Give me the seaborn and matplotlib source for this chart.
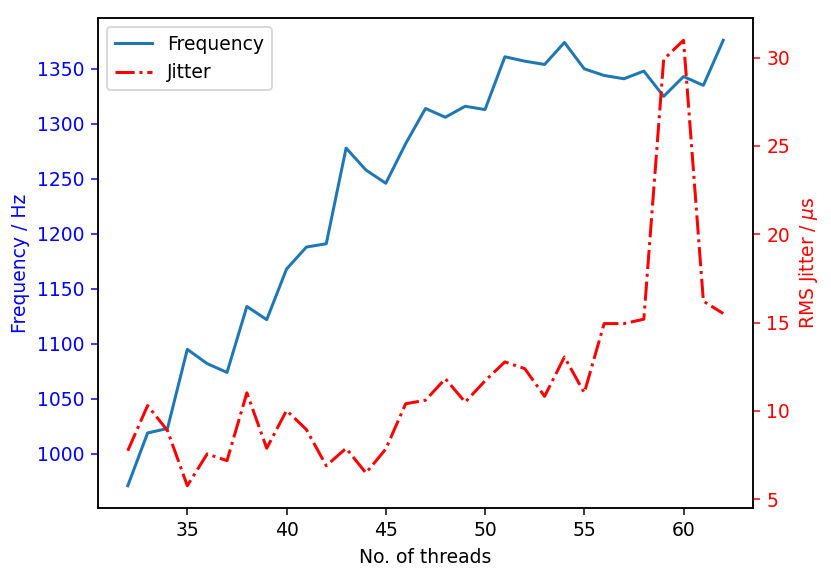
import matplotlib
matplotlib.use("Agg")
import matplotlib.pyplot as plt
import seaborn as sns
import pandas as pd

threads = list(range(32, 63))
frequency = [971, 1019, 1023, 1095, 1082, 1074, 1134, 1122, 1168, 1188, 1191,
             1278, 1258, 1246, 1282, 1314, 1306, 1316, 1313, 1361, 1357, 1354,
             1374, 1350, 1344, 1341, 1348, 1325, 1343, 1335, 1376]
jitter = [7.74, 10.3, 8.88, 5.76, 7.56, 7.18, 11.02, 7.88, 10.02, 8.94, 6.89,
          7.88, 6.48, 7.84, 10.4, 10.6, 11.82, 10.49, 11.7, 12.77, 12.39, 10.82,
          13.05, 11.02, 14.94, 14.94, 15.19, 29.9, 30.98, 16.21, 15.51]

df = pd.DataFrame({"threads": threads, "frequency": frequency, "jitter": jitter})

DPI = 135
fig = plt.figure(figsize=(831 / DPI, 578 / DPI), dpi=DPI)
ax = fig.add_axes([98 / 831, 1 - 508 / 578, (753 - 98) / 831, (508 - 18) / 578])

sns.lineplot(data=df, x="threads", y="frequency", ax=ax, color="#1f77b4",
             linewidth=1.6, label="Frequency", legend=False)
ax.set_xlabel("No. of threads")
ax.set_ylabel("Frequency / Hz", color="blue")
ax.tick_params(axis="y", colors="blue")

ax2 = ax.twinx()
sns.lineplot(data=df, x="threads", y="jitter", ax=ax2, color="red",
             linewidth=1.6, linestyle="-.", label="Jitter", legend=False)
ax2.set_ylabel(r"RMS Jitter / $\mu$s", color="red")
ax2.tick_params(axis="y", colors="red")
ax2.set_xlabel("No. of threads")

h1, l1 = ax.get_legend_handles_labels()
h2, l2 = ax2.get_legend_handles_labels()
ax.legend(h1 + h2, l1 + l2, loc="upper left")

fig.savefig("out.png", dpi=DPI)
